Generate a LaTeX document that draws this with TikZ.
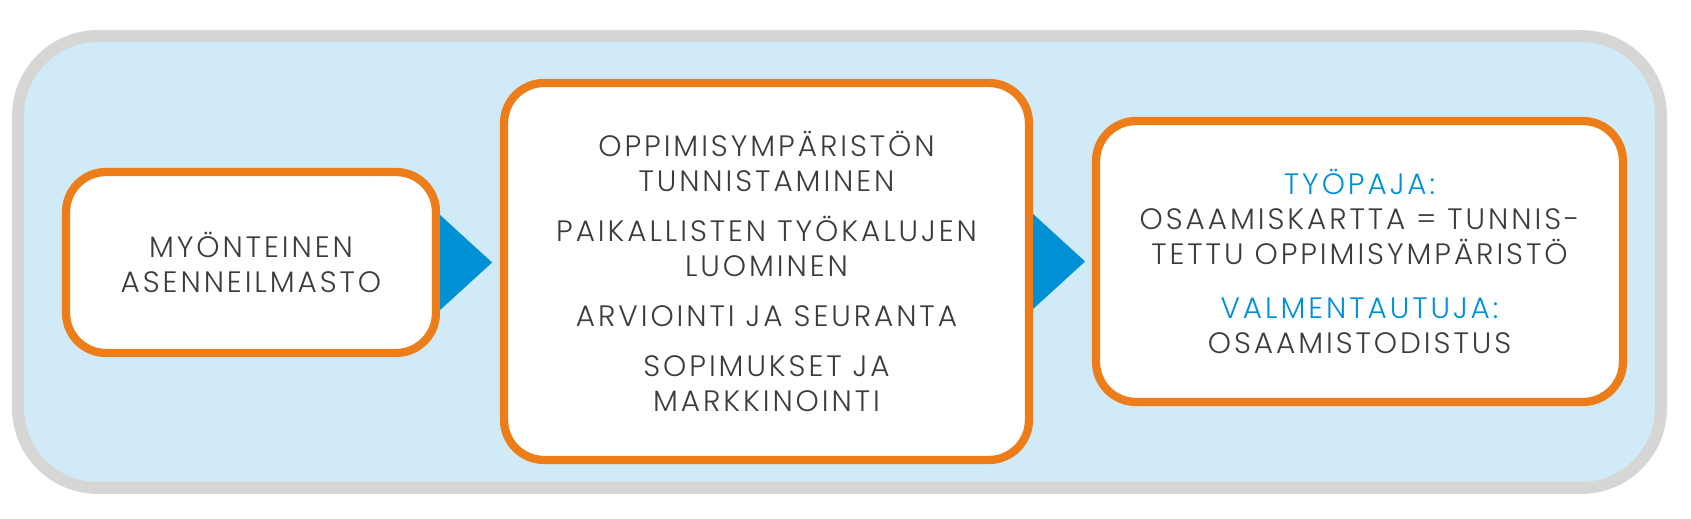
\documentclass[tikz,border=0pt]{standalone}
\usepackage{fontspec}
\setmainfont{Poppins}[UprightFont=* Light, LetterSpace=10]
\usetikzlibrary{positioning,calc}
\definecolor{opOrange}{RGB}{236,125,24}
\definecolor{opBlue}{RGB}{0,145,213}
\definecolor{opSky}{RGB}{208,234,247}
\definecolor{opGray}{RGB}{214,214,212}
\definecolor{opText}{RGB}{60,60,59}
\tikzset{
    base/.style={font=\fontsize{16.8}{19.9}\selectfont, align=center, text=opText},
    frame/.style={draw=opGray, line width=0.24cm, fill=opSky, rounded corners=1.6cm},
    stage/.style={base, rectangle, draw=opOrange, line width=0.165cm, fill=white,
                  rounded corners=0.8cm, inner sep=0pt},
    pointer/.style={fill=opBlue},
    heading/.style={text=opBlue}
}

\begin{document}
\begin{tikzpicture}[x=0.02cm, y=-0.02cm]
  \useasboundingbox (0,0) rectangle (1691,519);

  % Outer frame
  \draw[frame] (18,36) rectangle (1661,488);

  % Stages
  \node[stage, minimum width=7.4cm, minimum height=3.62cm] (attitude) at (251,262.5)
    {MYÖNTEINEN\\ASENNEILMASTO};
  \node[stage, minimum width=10.5cm, minimum height=7.54cm] (tools) at (766.5,271.5)
    {OPPIMISYMPÄRISTÖN\\TUNNISTAMINEN\\[8.5pt]
     PAIKALLISTEN TYÖKALUJEN\\LUOMINEN\\[8.5pt]
     ARVIOINTI JA SEURANTA\\[8.5pt]
     SOPIMUKSET JA\\MARKKINOINTI};
  \node[stage, minimum width=10.54cm, minimum height=5.62cm] (result) at (1359.5,261.5)
    {{\color{opBlue}TYÖPAJA:}\\OSAAMISKARTTA = TUNNIS-\\TETTU OPPIMISYMPÄRISTÖ\\[10.8pt]
     {\color{opBlue}VALMENTAUTUJA:}\\OSAAMISTODISTUS};

  % Pointers between stages
  \fill[pointer] ($(attitude.east)+(0,-47.5)$) -- ($(attitude.east)+(52,0)$)
    -- ($(attitude.east)+(0,47.5)$) -- cycle;
  \fill[pointer] ($(tools.east |- result.west)+(0,-47.5)$) -- ($(tools.east |- result.west)+(52,0)$)
    -- ($(tools.east |- result.west)+(0,47.5)$) -- cycle;
\end{tikzpicture}
\end{document}
